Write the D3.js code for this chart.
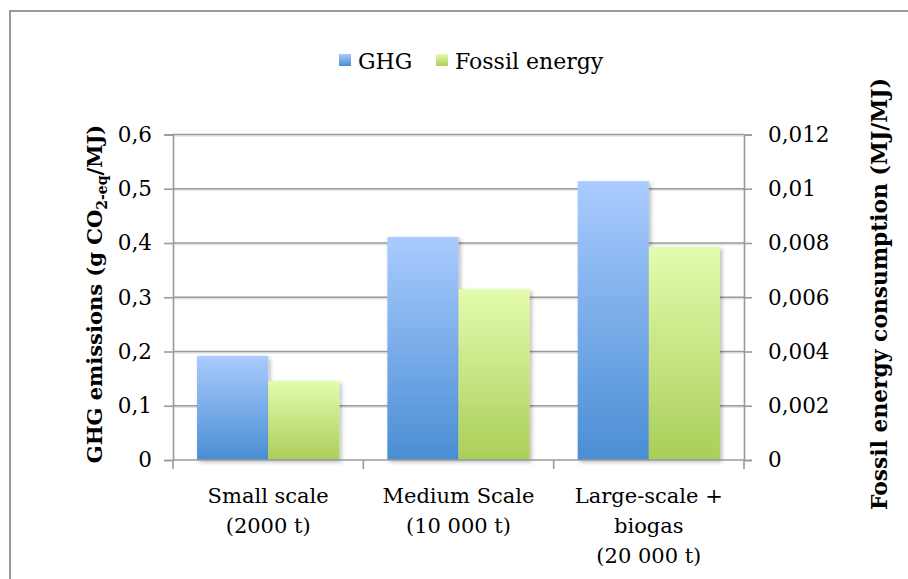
<!DOCTYPE html>
<html>
<head>
<meta charset="utf-8">
<script src="https://cdn.jsdelivr.net/npm/d3@7"></script>
<style>
  html, body { margin: 0; padding: 0; background: #fff; }
  svg { display: block; }
  text { font-family: "DejaVu Serif", serif; fill: #000; }
</style>
</head>
<body>
<svg id="chart" width="908" height="579"></svg>
<script>
// ---- data ----
const categories = [
  ["Small scale", "(2000 t)"],
  ["Medium Scale", "(10 000 t)"],
  ["Large-scale +", "biogas", "(20 000 t)"]
];
const seriesNames = ["GHG", "Fossil energy"];
const ghgValues = [0.192, 0.411, 0.514];
const fossilValues = [0.00291, 0.0063, 0.00785];
const leftTicks = [0, 0.1, 0.2, 0.3, 0.4, 0.5, 0.6];
const leftTickLabels = ["0", "0,1", "0,2", "0,3", "0,4", "0,5", "0,6"];
const rightTicks = [0, 0.002, 0.004, 0.006, 0.008, 0.01, 0.012];
const rightTickLabels = ["0", "0,002", "0,004", "0,006", "0,008", "0,01", "0,012"];

const svg = d3.select("#chart");
const plot = { left: 173, right: 744, top: 134.5, bottom: 460 };

// frame
svg.append("rect").attr("x", 10).attr("y", 11).attr("width", 1000).attr("height", 700)
  .attr("fill", "#fff").attr("stroke", "#9a9a9a").attr("stroke-width", 2);

// defs
const defs = svg.append("defs");
const gradColors = [["#aacbff", "#4a8ed3"], ["#e3fcae", "#abce59"]];
gradColors.forEach((c, i) => {
  const g = defs.append("linearGradient").attr("id", "grad" + i)
    .attr("x1", 0).attr("y1", 0).attr("x2", 0).attr("y2", 1);
  g.append("stop").attr("offset", "0%").attr("stop-color", c[0]);
  g.append("stop").attr("offset", "100%").attr("stop-color", c[1]);
});
const f = defs.append("filter").attr("id", "shadow").attr("x", "-20%").attr("y", "-20%")
  .attr("width", "150%").attr("height", "150%");
f.append("feDropShadow").attr("dx", 2).attr("dy", 2).attr("stdDeviation", 2)
  .attr("flood-color", "#000").attr("flood-opacity", 0.28);

// scales
const catKeys = categories.map((d, i) => i);
const x = d3.scaleBand().domain(catKeys).range([plot.left, plot.right]).padding(0);
const xInner = d3.scaleBand().domain(seriesNames).range([0, x.bandwidth()])
  .paddingInner(0).paddingOuter(0.338);
const y = d3.scaleLinear().domain([0, 0.6]).range([plot.bottom, plot.top]);
const y2 = d3.scaleLinear().domain([0, 0.012]).range([plot.bottom, plot.top]);

// gridlines
const grid = svg.append("g");
leftTicks.slice(1).forEach(t => {
  grid.append("line").attr("x1", plot.left).attr("x2", plot.right)
    .attr("y1", y(t) + 1.5).attr("y2", y(t) + 1.5)
    .attr("stroke", "#e4e4e4").attr("stroke-width", 1.5);
  grid.append("line").attr("x1", plot.left).attr("x2", plot.right)
    .attr("y1", y(t)).attr("y2", y(t))
    .attr("stroke", "#9a9a9a").attr("stroke-width", 1.6);
});

// bars
const bars = svg.append("g");
const data = [];
catKeys.forEach(i => {
  data.push({ cat: i, s: seriesNames[0], yv: y(ghgValues[i]), idx: 0 });
  data.push({ cat: i, s: seriesNames[1], yv: y2(fossilValues[i]), idx: 1 });
});
bars.selectAll("rect").data(data).join("rect")
  .attr("x", d => x(d.cat) + xInner(d.s))
  .attr("width", xInner.bandwidth())
  .attr("y", d => d.yv)
  .attr("height", d => plot.bottom - d.yv)
  .attr("fill", d => "url(#grad" + d.idx + ")")
  .attr("filter", "url(#shadow)");

// axes
const axisColor = "#9a9a9a";
const leftAxis = svg.append("g").attr("transform", `translate(${plot.left},0)`)
  .call(d3.axisLeft(y).tickValues(leftTicks).tickSize(9).tickPadding(12)
    .tickFormat((d, i) => leftTickLabels[i]));
const rightAxis = svg.append("g").attr("transform", `translate(${plot.right},0)`)
  .call(d3.axisRight(y2).tickValues(rightTicks).tickSize(8).tickPadding(16)
    .tickFormat((d, i) => rightTickLabels[i]));
[leftAxis, rightAxis].forEach(a => {
  a.select(".domain").attr("stroke", axisColor).attr("stroke-width", 1.6);
  a.selectAll(".tick line").attr("stroke", axisColor).attr("stroke-width", 1.6);
  a.selectAll(".tick text").style("font-family", "DejaVu Serif").style("font-size", "21.5px")
    .attr("fill", "#000");
});

// bottom axis with ticks at category boundaries
const boundaries = catKeys.map(i => x(i)).concat([plot.right]);
const bAxis = svg.append("g");
bAxis.append("line").attr("x1", plot.left).attr("x2", plot.right)
  .attr("y1", plot.bottom).attr("y2", plot.bottom)
  .attr("stroke", axisColor).attr("stroke-width", 1.6);
boundaries.forEach(b => {
  bAxis.append("line").attr("x1", b).attr("x2", b)
    .attr("y1", plot.bottom).attr("y2", plot.bottom + 9)
    .attr("stroke", axisColor).attr("stroke-width", 1.6);
});
catKeys.forEach(i => {
  const t = bAxis.append("text").attr("text-anchor", "middle")
    .attr("x", x(i) + x.bandwidth() / 2).attr("y", 503)
    .style("font-size", "21px");
  categories[i].forEach((line, j) => {
    t.append("tspan").attr("x", x(i) + x.bandwidth() / 2).attr("dy", j === 0 ? 0 : 30).text(line);
  });
});

// axis titles
const lt = svg.append("text").attr("text-anchor", "middle")
  .attr("transform", "translate(102,294) rotate(-90)")
  .style("font-size", "21px").style("font-weight", "bold");
lt.append("tspan").text("GHG emissions (g CO");
lt.append("tspan").text("2-eq").style("font-size", "14px").attr("dy", 5);
lt.append("tspan").text("/MJ)").attr("dy", -5);

svg.append("text").attr("text-anchor", "middle")
  .attr("transform", "translate(887,294) rotate(-90)")
  .style("font-size", "21.8px").style("font-weight", "bold")
  .text("Fossil energy consumption (MJ/MJ)");

// legend
const legend = svg.append("g");
const legendItems = [{ name: seriesNames[0], x: 339, tx: 358 }, { name: seriesNames[1], x: 436, tx: 455 }];
legendItems.forEach((d, i) => {
  legend.append("rect").attr("x", d.x).attr("y", 54).attr("width", 12).attr("height", 12)
    .attr("fill", "url(#grad" + i + ")");
  legend.append("text").attr("x", d.tx).attr("y", 69).style("font-size", "22px").text(d.name);
});
</script>
</body>
</html>
